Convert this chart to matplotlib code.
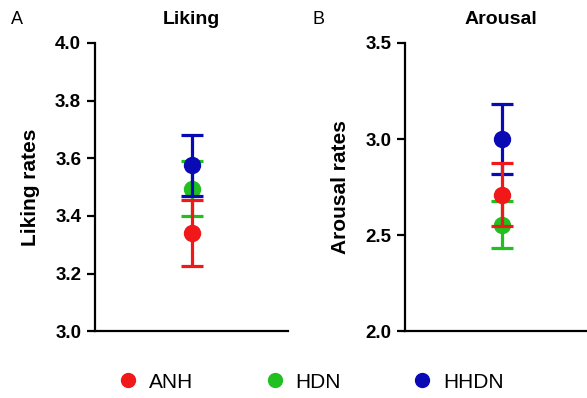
import matplotlib.pyplot as plt
from matplotlib.lines import Line2D

plt.rcParams["font.family"] = ["Liberation Sans", "DejaVu Sans"]

groups = ["ANH", "HDN", "HHDN"]
colors = ["#f01818", "#1fc01f", "#0a0ab4"]
z_order = [4, 2, 3]

liking_mean = [3.34, 3.495, 3.575]
liking_err = [0.115, 0.095, 0.105]
arousal_mean = [2.71, 2.555, 3.00]
arousal_err = [0.165, 0.12, 0.18]

fig = plt.figure(figsize=(5.87, 3.98), dpi=100)
ax1 = fig.add_axes([0.162, 0.168, 0.329, 0.724])
ax2 = fig.add_axes([0.690, 0.168, 0.329, 0.724])

def panel(ax, means, errs, ylim, ticks, ylabel, title, letter, lx, tx):
    for m, e, c, z in zip(means, errs, colors, z_order):
        ax.errorbar([0], [m], yerr=[e], fmt="o", color=c, ms=11.5, elinewidth=2.3,
                    capsize=8, capthick=2.3, zorder=z)
    ax.set_xlim(-1, 1)
    ax.set_ylim(*ylim)
    ax.set_yticks(ticks)
    ax.set_yticklabels([f"{t:.1f}" for t in ticks], fontsize=13.5, fontweight="bold")
    ax.set_xticks([])
    for s in ["top", "right"]:
        ax.spines[s].set_visible(False)
    for s in ["left", "bottom"]:
        ax.spines[s].set_linewidth(1.6)
    ax.tick_params(axis="y", width=1.6, length=6, pad=4)
    ax.set_ylabel(ylabel, fontsize=15, fontweight="bold", labelpad=11)
    fig.text(tx, 0.952, title, ha="center", va="center", fontsize=14, fontweight="bold")
    fig.text(lx, 0.952, letter, ha="left", va="center", fontsize=13)

panel(ax1, liking_mean, liking_err, (3.0, 4.0), [3.0, 3.2, 3.4, 3.6, 3.8, 4.0],
      "Liking rates", "Liking", "A", 0.018, 0.326)
panel(ax2, arousal_mean, arousal_err, (2.0, 3.5), [2.0, 2.5, 3.0, 3.5],
      "Arousal rates", "Arousal", "B", 0.532, 0.853)

handles = [Line2D([], [], marker="o", ls="none", color=c, ms=10) for c in colors]
fig.legend(handles, groups, loc="center", bbox_to_anchor=(0.528, 0.04), ncol=3,
           frameon=False, fontsize=15, columnspacing=3.3, handletextpad=0.4,
           handlelength=1.2)

plt.savefig("out.png", dpi=100, facecolor="white")
